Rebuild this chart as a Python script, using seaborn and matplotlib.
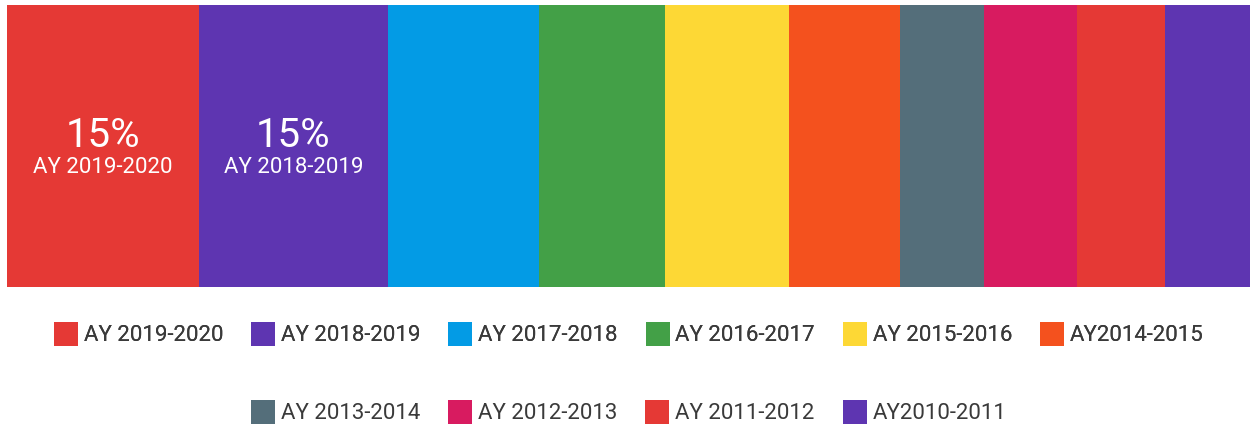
import numpy as np
import matplotlib.pyplot as plt
from matplotlib.lines import Line2D
from matplotlib.transforms import blended_transform_factory
import seaborn as sns

# academic years, in stacking order (left to right)
years = ['AY 2019-2020', 'AY 2018-2019', 'AY 2017-2018', 'AY 2016-2017', 'AY 2015-2016',
         'AY2014-2015', 'AY 2013-2014', 'AY 2012-2013', 'AY 2011-2012', 'AY2010-2011']
# share of respondents (%)
shares = [15.4, 15.2, 12.1, 10.1, 9.9, 8.9, 6.8, 7.4, 7.1, 6.8]
colors = ['#E53935', '#5E35B1', '#039BE5', '#43A047', '#FDD835',
          '#F4511E', '#546E7A', '#D81B60', '#E53935', '#5E35B1']
# only the two widest segments carry a label
seg_labels = ['15%', '15%']

sns.set_style('white')
plt.rcParams['font.family'] = ['Roboto', 'DejaVu Sans']

fig = plt.figure(figsize=(12.51, 4.28), dpi=100)
ax = fig.add_axes([0.0052, 0.3294, 0.9940, 0.6589])

# stacked bar: draw cumulative totals from the longest down
cum = np.cumsum(shares)
for i in reversed(range(len(shares))):
    sns.barplot(x=[cum[i]], y=['all'], orient='h', color=colors[i], saturation=1,
                width=1, linewidth=0, ax=ax)

ax.set_xlim(0, cum[-1])
ax.set_ylim(0.5, -0.5)
ax.axis('off')

trans = blended_transform_factory(ax.transData, ax.transAxes)
starts = np.concatenate([[0], cum[:-1]])
for i, lab in enumerate(seg_labels):
    xc = starts[i] + shares[i] / 2
    ax.text(xc, 0.4965, lab, transform=trans, ha='center', va='baseline',
            color='white', fontsize=29)
    ax.text(xc, 0.405, years[i], transform=trans, ha='center', va='baseline',
            color='white', fontsize=16)

handles = [Line2D([], [], marker='s', linestyle='', markersize=17.5,
                  markeredgewidth=0, color=c) for c in colors]

leg1 = fig.legend(handles[:6], years[:6], loc='center', bbox_to_anchor=(0.503, 0.215),
                  ncol=6, frameon=False, fontsize=16, labelcolor='#3a3a3a',
                  handlelength=1.0, handletextpad=0.3, columnspacing=1.3)
fig.add_artist(leg1)
fig.legend(handles[6:], years[6:], loc='center', bbox_to_anchor=(0.503, 0.033),
           ncol=4, frameon=False, fontsize=16, labelcolor='#3a3a3a',
           handlelength=1.0, handletextpad=0.3, columnspacing=1.3)

fig.savefig('out.png', dpi=100)
